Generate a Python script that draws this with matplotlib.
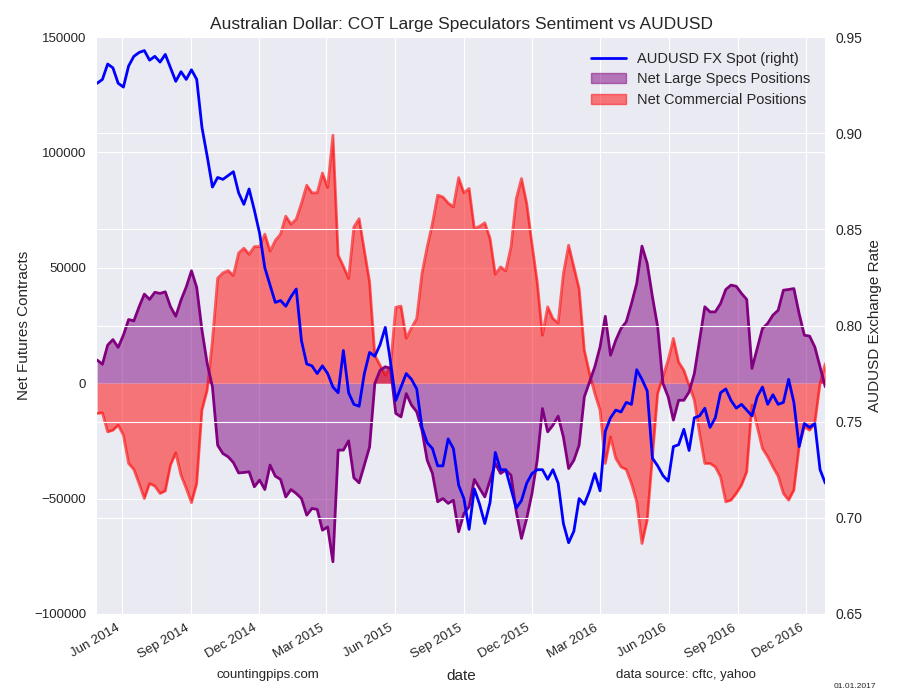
import numpy as np
import pandas as pd
import matplotlib
matplotlib.use('Agg')
import matplotlib.pyplot as plt
import matplotlib.dates as mdates
import matplotlib.patches as mpatches

# weekly COT report dates
dates = pd.date_range('2014-04-29', periods=140, freq='7D')

audusd = [
    0.926, 0.928, 0.936, 0.934, 0.926, 0.924, 0.935, 0.940, 0.942, 0.943,
    0.938, 0.940, 0.937, 0.941, 0.934, 0.927, 0.932, 0.928, 0.933, 0.928,
    0.903, 0.888, 0.872, 0.877, 0.876, 0.878, 0.880, 0.869, 0.863, 0.871,
    0.860, 0.848, 0.830, 0.821, 0.812, 0.813, 0.810, 0.815, 0.819, 0.792,
    0.780, 0.779, 0.775, 0.779, 0.775, 0.768, 0.765, 0.787, 0.765, 0.759,
    0.758, 0.775, 0.786, 0.784, 0.790, 0.799, 0.781, 0.761, 0.768, 0.775,
    0.772, 0.767, 0.747, 0.739, 0.736, 0.727, 0.727, 0.741, 0.736, 0.717,
    0.710, 0.694, 0.715, 0.707, 0.697, 0.708, 0.734, 0.725, 0.725, 0.715,
    0.705, 0.709, 0.718, 0.723, 0.725, 0.725, 0.720, 0.725, 0.718, 0.697,
    0.687, 0.693, 0.710, 0.707, 0.714, 0.723, 0.714, 0.745, 0.752, 0.756,
    0.755, 0.760, 0.759, 0.777, 0.772, 0.766, 0.731, 0.727, 0.722, 0.719,
    0.737, 0.738, 0.746, 0.735, 0.752, 0.753, 0.757, 0.747, 0.752, 0.765,
    0.767, 0.761, 0.757, 0.759, 0.756, 0.753, 0.763, 0.768, 0.759, 0.764,
    0.759, 0.760, 0.772, 0.760, 0.737, 0.749, 0.747, 0.749, 0.725, 0.718,
]

large_specs = [
    10000, 8200, 16500, 18900, 15500, 20800, 27600, 27000, 33100, 38600,
    36300, 39400, 38900, 39600, 33100, 29000, 36000, 41700, 48700, 41500,
    23000, 8500, -1600, -26900, -30500, -31900, -34400, -38900, -38700, -38400,
    -44900, -42000, -46100, -35500, -40300, -41700, -49300, -46100, -47800, -50000,
    -57200, -54300, -54700, -63700, -62300, -77400, -29000, -29000, -25000, -41000,
    -43200, -35500, -27600, -100, 5600, 7100, 6400, -13100, -14600, -4500,
    -9500, -12400, -20400, -33400, -39100, -51400, -50000, -52100, -50700, -64400,
    -56500, -53600, -41700, -45600, -49300, -42000, -34800, -39100, -37700, -39900,
    -55700, -67300, -58600, -47800, -33400, -11000, -21100, -18200, -14300, -23300,
    -37000, -33400, -26900, -5900, 600, 7100, 15700, 29000, 12100, 18600,
    23700, 26600, 34500, 43200, 59400, 51900, 37400, 24400, -100, -5900,
    -16000, -7400, -7400, -3800, 4200, 18600, 33100, 30900, 30900, 34500,
    40600, 42500, 42000, 38900, 36300, 6400, 15000, 23700, 25900, 29500,
    31600, 40300, 40600, 41000, 30200, 20800, 20400, 15700, 7100, -1600,
]

commercials = [
    -13100, -12900, -21100, -20400, -18200, -22500, -34800, -37400, -43500, -50000,
    -43500, -44600, -47800, -46700, -35500, -30200, -39900, -45600, -51800, -43500,
    -11700, -3000, 18400, 45500, 47800, 48800, 46700, 56400, 58500, 55900,
    59200, 59200, 64600, 57200, 61800, 64600, 72400, 68900, 71100, 78000,
    85800, 82500, 82500, 91100, 84800, 107500, 55500, 50700, 45400, 67700,
    71300, 57600, 43900, 12100, 7800, 3500, 7400, 32900, 33400, 19500,
    24000, 28000, 47500, 59100, 69200, 81500, 80700, 78100, 76400, 89100,
    82500, 84400, 67000, 68000, 69500, 62700, 47200, 50400, 48700, 59100,
    80000, 88700, 77900, 60500, 43900, 20800, 33100, 28000, 26100, 47500,
    59800, 50400, 41000, 14300, 4200, -4500, -11700, -34800, -23300, -32600,
    -36300, -37400, -43500, -51400, -69500, -59400, -31900, -4500, 2700, 10000,
    19400, 9200, 5600, -900, -7400, -21800, -34800, -34800, -36300, -40600,
    -51400, -50700, -47800, -44200, -38400, -9500, -18900, -28300, -31900, -36300,
    -40300, -47800, -50700, -46400, -27600, -18900, -20400, -17500, -100, 8500,
]

plt.style.use('seaborn-v0_8-darkgrid')
plt.rcParams['font.family'] = ['Liberation Sans', 'DejaVu Sans']

fig = plt.figure(figsize=(9, 7), dpi=100)
ax = fig.add_axes([0.108, 0.123, 0.809, 0.824])

ax.fill_between(dates, 0, large_specs, color='purple', alpha=0.5, linewidth=0)
ax.fill_between(dates, 0, commercials, color='red', alpha=0.5, linewidth=0)
ax.plot(dates, commercials, color='red', alpha=0.6, linewidth=2)
ax.plot(dates, large_specs, color='purple', linewidth=2)
ax.set_ylim(-100000, 150000)
ax.set_yticks(np.arange(-100000, 150001, 50000))
ax.set_ylabel('Net Futures Contracts', fontsize=11, labelpad=2)
ax.set_xlabel('date', fontsize=11, labelpad=6)
ax.set_xlim(dates[0], dates[-1])
ax.xaxis.set_major_locator(mdates.MonthLocator(bymonth=[3, 6, 9, 12]))
ax.xaxis.set_major_formatter(mdates.DateFormatter('%b %Y'))
ax.tick_params(axis='y', labelsize=9.5, pad=8)
ax.tick_params(axis='x', labelsize=9.5, pad=6)
for lbl in ax.get_xticklabels():
    lbl.set_rotation(30)
    lbl.set_ha('right')

ax2 = ax.twinx()
ax2.plot(dates, audusd, color='blue', linewidth=2)
ax2.set_ylim(0.65, 0.95)
ax2.set_yticks(np.arange(0.65, 0.951, 0.05))
ax2.yaxis.set_major_formatter(matplotlib.ticker.FormatStrFormatter('%.2f'))
ax2.set_ylabel('AUDUSD Exchange Rate', fontsize=11)
ax2.tick_params(labelsize=10, pad=7)
ax2.grid(True, color='white')
ax2.set_xlim(dates[0], dates[-1])

handles = [
    plt.Line2D([], [], color='blue', linewidth=2),
    mpatches.Patch(color='purple', alpha=0.5),
    mpatches.Patch(color='red', alpha=0.5),
]
labels = ['AUDUSD FX Spot (right)', 'Net Large Specs Positions', 'Net Commercial Positions']
ax2.legend(handles, labels, loc='upper right', fontsize=10.5, frameon=False,
           handlelength=2.4, borderaxespad=0.6, labelspacing=0.45)

ax.set_title('Australian Dollar: COT Large Speculators Sentiment vs AUDUSD', fontsize=12.5)

fig.text(0.298, 0.032, 'countingpips.com', ha='center', fontsize=9.5)
fig.text(0.762, 0.032, 'data source: cftc, yahoo', ha='center', fontsize=9.5)
fig.text(0.95, 0.017, '01.01.2017', ha='center', fontsize=6)

fig.savefig('out.png', dpi=100)
